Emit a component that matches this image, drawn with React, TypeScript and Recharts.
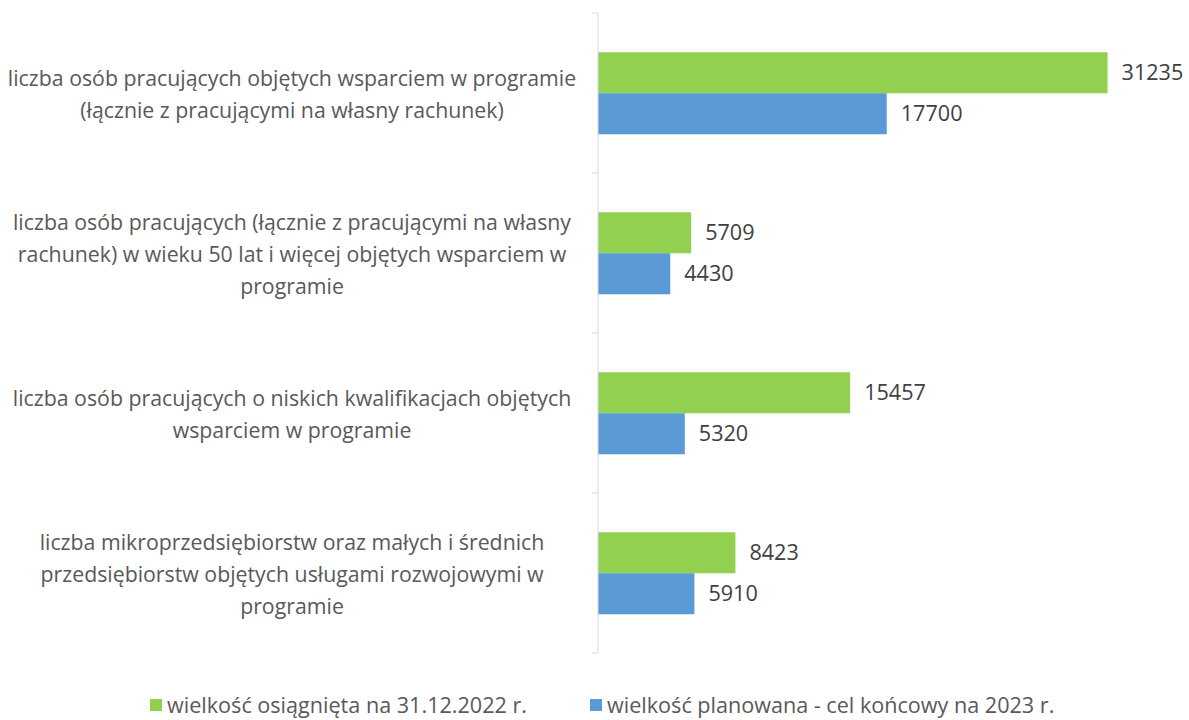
import React from "react";
import { BarChart, Bar, XAxis, YAxis, LabelList, Legend } from "recharts";

// category labels, already broken into lines the way the source wraps them
const categoryLines: string[][] = [
  ["liczba osób pracujących objętych wsparciem w programie", "(łącznie z pracującymi na własny rachunek)"],
  [
    "liczba osób pracujących (łącznie z pracującymi na własny",
    "rachunek) w wieku 50 lat i więcej objętych wsparciem w",
    "programie",
  ],
  ["liczba osób pracujących o niskich kwalifikacjach objętych", "wsparciem w programie"],
  [
    "liczba mikroprzedsiębiorstw oraz małych i średnich",
    "przedsiębiorstw objętych usługami rozwojowymi w",
    "programie",
  ],
];
const categories = categoryLines.map((l) => l.join(" "));

const achieved = [31235, 5709, 15457, 8423];
const planned = [17700, 4430, 5320, 5910];

const seriesNames = ["wielkość osiągnięta na 31.12.2022 r.", "wielkość planowana - cel końcowy na 2023 r."];
const seriesColors = ["#92D050", "#5B9BD5"];

const data = categories.map((name, i) => ({
  name,
  achieved: achieved[i],
  planned: planned[i],
}));

const FONT = "'Open Sans', Lato, sans-serif";
const TEXT = "#595959";
const AXIS = "#d9d9d9";

const W = 1189;
const H = 720;
const LEGEND_H = 26;
const plotTop = 13;
const plotHeight = 640;
const margin = { top: plotTop, right: 20, bottom: H - plotTop - plotHeight - LEGEND_H, left: 0 };
const yAxisWidth = 598;
const bandSize = plotHeight / categories.length;

const CategoryTick = (props: any) => {
  const { x, y, payload, index } = props;
  const lines = categoryLines[index] ?? [payload.value];
  const lh = 32;
  const startY = y - ((lines.length - 1) * lh) / 2;
  const axisX = x + 8;
  return (
    <g>
      <line x1={axisX - 6} x2={axisX} y1={y - bandSize / 2} y2={y - bandSize / 2} stroke={AXIS} />
      {index === categoryLines.length - 1 && (
        <line x1={axisX - 6} x2={axisX} y1={y + bandSize / 2} y2={y + bandSize / 2} stroke={AXIS} />
      )}
      {lines.map((t, i) => (
        <text
          key={i}
          x={292}
          y={startY + i * lh}
          textAnchor="middle"
          dominantBaseline="central"
          fill={TEXT}
          fontSize={21.3}
          fontFamily={FONT}
        >
          {t}
        </text>
      ))}
    </g>
  );
};

const renderLegend = () => (
  <div style={{ position: "relative", height: LEGEND_H, fontFamily: FONT, fontSize: 21.6, color: TEXT }}>
    {seriesNames.map((n, i) => (
      <div
        key={n}
        style={{
          position: "absolute",
          left: i === 0 ? 150 : 590,
          top: 0,
          display: "flex",
          alignItems: "center",
          whiteSpace: "nowrap",
        }}
      >
        <span style={{ width: 12, height: 12, background: seriesColors[i], marginRight: 5, display: "inline-block" }} />
        {n}
      </div>
    ))}
  </div>
);

export default function App() {
  return (
    <div style={{ position: "absolute", left: 0, top: 0, background: "#fff" }}>
      <BarChart
        width={W}
        height={H}
        data={data}
        layout="vertical"
        margin={margin}
        barCategoryGap="24.5%"
        barGap={0}
      >
        <XAxis type="number" domain={[0, 35000]} hide />
        <YAxis
          type="category"
          dataKey="name"
          width={yAxisWidth}
          axisLine={{ stroke: AXIS }}
          tickLine={false}
          tick={<CategoryTick />}
          interval={0}
        />
        <Legend
          verticalAlign="bottom"
          content={renderLegend}
          wrapperStyle={{ position: "absolute", left: 0, top: 690, width: W, height: LEGEND_H }}
        />
        <Bar dataKey="achieved" name={seriesNames[0]} fill={seriesColors[0]} isAnimationActive={false}>
          <LabelList dataKey="achieved" position="right" offset={14} fill="#404040" fontSize={21.6} fontFamily={FONT} />
        </Bar>
        <Bar dataKey="planned" name={seriesNames[1]} fill={seriesColors[1]} isAnimationActive={false}>
          <LabelList dataKey="planned" position="right" offset={14} fill="#404040" fontSize={21.6} fontFamily={FONT} />
        </Bar>
      </BarChart>
    </div>
  );
}
